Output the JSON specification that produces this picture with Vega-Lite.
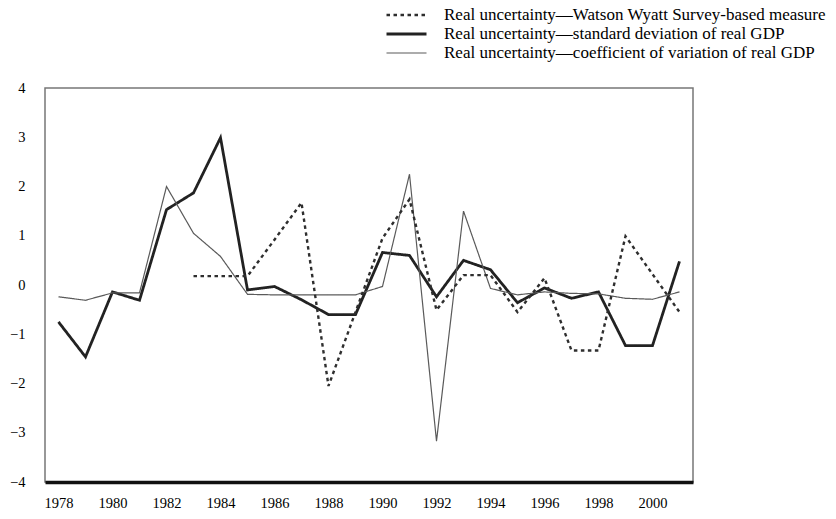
{
  "$schema": "https://vega.github.io/schema/vega-lite/v6.json",
  "autosize": "none",
  "width": 648,
  "height": 394,
  "padding": {"left": 45, "top": 88, "right": 143, "bottom": 37},
  "background": "white",
  "config": {
    "font": "Liberation Serif",
    "view": {"stroke": "#777", "strokeWidth": 1.5}
  },
  "data": {
    "values": [
      {"year": 1978, "series": "Real uncertainty\u2014standard deviation of real GDP", "value": -0.75},
      {"year": 1979, "series": "Real uncertainty\u2014standard deviation of real GDP", "value": -1.46},
      {"year": 1980, "series": "Real uncertainty\u2014standard deviation of real GDP", "value": -0.14},
      {"year": 1981, "series": "Real uncertainty\u2014standard deviation of real GDP", "value": -0.31},
      {"year": 1982, "series": "Real uncertainty\u2014standard deviation of real GDP", "value": 1.53},
      {"year": 1983, "series": "Real uncertainty\u2014standard deviation of real GDP", "value": 1.87},
      {"year": 1984, "series": "Real uncertainty\u2014standard deviation of real GDP", "value": 2.99},
      {"year": 1985, "series": "Real uncertainty\u2014standard deviation of real GDP", "value": -0.1},
      {"year": 1986, "series": "Real uncertainty\u2014standard deviation of real GDP", "value": -0.03},
      {"year": 1987, "series": "Real uncertainty\u2014standard deviation of real GDP", "value": -0.3},
      {"year": 1988, "series": "Real uncertainty\u2014standard deviation of real GDP", "value": -0.6},
      {"year": 1989, "series": "Real uncertainty\u2014standard deviation of real GDP", "value": -0.6},
      {"year": 1990, "series": "Real uncertainty\u2014standard deviation of real GDP", "value": 0.66},
      {"year": 1991, "series": "Real uncertainty\u2014standard deviation of real GDP", "value": 0.6},
      {"year": 1992, "series": "Real uncertainty\u2014standard deviation of real GDP", "value": -0.24},
      {"year": 1993, "series": "Real uncertainty\u2014standard deviation of real GDP", "value": 0.5},
      {"year": 1994, "series": "Real uncertainty\u2014standard deviation of real GDP", "value": 0.31},
      {"year": 1995, "series": "Real uncertainty\u2014standard deviation of real GDP", "value": -0.36},
      {"year": 1996, "series": "Real uncertainty\u2014standard deviation of real GDP", "value": -0.06},
      {"year": 1997, "series": "Real uncertainty\u2014standard deviation of real GDP", "value": -0.27},
      {"year": 1998, "series": "Real uncertainty\u2014standard deviation of real GDP", "value": -0.14},
      {"year": 1999, "series": "Real uncertainty\u2014standard deviation of real GDP", "value": -1.23},
      {"year": 2000, "series": "Real uncertainty\u2014standard deviation of real GDP", "value": -1.23},
      {"year": 2001, "series": "Real uncertainty\u2014standard deviation of real GDP", "value": 0.48},

      {"year": 1978, "series": "Real uncertainty\u2014coefficient of variation of real GDP", "value": -0.24},
      {"year": 1979, "series": "Real uncertainty\u2014coefficient of variation of real GDP", "value": -0.31},
      {"year": 1980, "series": "Real uncertainty\u2014coefficient of variation of real GDP", "value": -0.16},
      {"year": 1981, "series": "Real uncertainty\u2014coefficient of variation of real GDP", "value": -0.16},
      {"year": 1982, "series": "Real uncertainty\u2014coefficient of variation of real GDP", "value": 2.0},
      {"year": 1983, "series": "Real uncertainty\u2014coefficient of variation of real GDP", "value": 1.05},
      {"year": 1984, "series": "Real uncertainty\u2014coefficient of variation of real GDP", "value": 0.58},
      {"year": 1985, "series": "Real uncertainty\u2014coefficient of variation of real GDP", "value": -0.19},
      {"year": 1986, "series": "Real uncertainty\u2014coefficient of variation of real GDP", "value": -0.2},
      {"year": 1987, "series": "Real uncertainty\u2014coefficient of variation of real GDP", "value": -0.2},
      {"year": 1988, "series": "Real uncertainty\u2014coefficient of variation of real GDP", "value": -0.2},
      {"year": 1989, "series": "Real uncertainty\u2014coefficient of variation of real GDP", "value": -0.2},
      {"year": 1990, "series": "Real uncertainty\u2014coefficient of variation of real GDP", "value": -0.03},
      {"year": 1991, "series": "Real uncertainty\u2014coefficient of variation of real GDP", "value": 2.25},
      {"year": 1992, "series": "Real uncertainty\u2014coefficient of variation of real GDP", "value": -3.17},
      {"year": 1993, "series": "Real uncertainty\u2014coefficient of variation of real GDP", "value": 1.5},
      {"year": 1994, "series": "Real uncertainty\u2014coefficient of variation of real GDP", "value": -0.07},
      {"year": 1995, "series": "Real uncertainty\u2014coefficient of variation of real GDP", "value": -0.2},
      {"year": 1996, "series": "Real uncertainty\u2014coefficient of variation of real GDP", "value": -0.14},
      {"year": 1997, "series": "Real uncertainty\u2014coefficient of variation of real GDP", "value": -0.17},
      {"year": 1998, "series": "Real uncertainty\u2014coefficient of variation of real GDP", "value": -0.18},
      {"year": 1999, "series": "Real uncertainty\u2014coefficient of variation of real GDP", "value": -0.27},
      {"year": 2000, "series": "Real uncertainty\u2014coefficient of variation of real GDP", "value": -0.29},
      {"year": 2001, "series": "Real uncertainty\u2014coefficient of variation of real GDP", "value": -0.14},

      {"year": 1983, "series": "Real uncertainty\u2014Watson Wyatt Survey-based measure", "value": 0.18},
      {"year": 1984, "series": "Real uncertainty\u2014Watson Wyatt Survey-based measure", "value": 0.18},
      {"year": 1985, "series": "Real uncertainty\u2014Watson Wyatt Survey-based measure", "value": 0.18},
      {"year": 1986, "series": "Real uncertainty\u2014Watson Wyatt Survey-based measure", "value": 0.92},
      {"year": 1987, "series": "Real uncertainty\u2014Watson Wyatt Survey-based measure", "value": 1.67},
      {"year": 1988, "series": "Real uncertainty\u2014Watson Wyatt Survey-based measure", "value": -2.05},
      {"year": 1989, "series": "Real uncertainty\u2014Watson Wyatt Survey-based measure", "value": -0.55},
      {"year": 1990, "series": "Real uncertainty\u2014Watson Wyatt Survey-based measure", "value": 0.95},
      {"year": 1991, "series": "Real uncertainty\u2014Watson Wyatt Survey-based measure", "value": 1.74},
      {"year": 1992, "series": "Real uncertainty\u2014Watson Wyatt Survey-based measure", "value": -0.51},
      {"year": 1993, "series": "Real uncertainty\u2014Watson Wyatt Survey-based measure", "value": 0.2},
      {"year": 1994, "series": "Real uncertainty\u2014Watson Wyatt Survey-based measure", "value": 0.2},
      {"year": 1995, "series": "Real uncertainty\u2014Watson Wyatt Survey-based measure", "value": -0.55},
      {"year": 1996, "series": "Real uncertainty\u2014Watson Wyatt Survey-based measure", "value": 0.14},
      {"year": 1997, "series": "Real uncertainty\u2014Watson Wyatt Survey-based measure", "value": -1.33},
      {"year": 1998, "series": "Real uncertainty\u2014Watson Wyatt Survey-based measure", "value": -1.33},
      {"year": 1999, "series": "Real uncertainty\u2014Watson Wyatt Survey-based measure", "value": 0.99},
      {"year": 2000, "series": "Real uncertainty\u2014Watson Wyatt Survey-based measure", "value": 0.22},
      {"year": 2001, "series": "Real uncertainty\u2014Watson Wyatt Survey-based measure", "value": -0.55}
    ]
  },
  "mark": {"type": "line", "strokeJoin": "miter"},
  "encoding": {
    "x": {
      "field": "year",
      "type": "quantitative",
      "scale": {"domain": [1977.5, 2001.5], "nice": false, "zero": false},
      "axis": {
        "title": null,
        "values": [1978, 1980, 1982, 1984, 1986, 1988, 1990, 1992, 1994, 1996, 1998, 2000],
        "format": "d",
        "grid": false,
        "ticks": false,
        "domainColor": "#111",
        "domainWidth": 3.5,
        "labelFont": "Liberation Serif",
        "labelFontSize": 14.5,
        "labelColor": "#000",
        "labelPadding": 14
      }
    },
    "y": {
      "field": "value",
      "type": "quantitative",
      "scale": {"domain": [-4, 4], "nice": false},
      "axis": {
        "title": null,
        "values": [-4, -3, -2, -1, 0, 1, 2, 3, 4],
        "grid": false,
        "ticks": false,
        "domain": false,
        "labelFont": "Liberation Serif",
        "labelFontSize": 14.5,
        "labelColor": "#000",
        "labelPadding": 20
      }
    },
    "color": {
      "field": "series",
      "type": "nominal",
      "scale": {
        "domain": [
          "Real uncertainty\u2014Watson Wyatt Survey-based measure",
          "Real uncertainty\u2014standard deviation of real GDP",
          "Real uncertainty\u2014coefficient of variation of real GDP"
        ],
        "range": ["#2e2e2e", "#222222", "#5a5a5a"]
      },
      "legend": {
        "title": null,
        "orient": "none",
        "legendX": 340,
        "legendY": -82,
        "symbolType": "stroke",
        "symbolSize": 1600,
        "clipHeight": 18,
        "labelFont": "Liberation Serif",
        "labelFontSize": 17,
        "labelColor": "#000",
        "labelOffset": 16,
        "rowPadding": 1,
        "labelLimit": 600
      }
    },
    "strokeDash": {
      "field": "series",
      "type": "nominal",
      "scale": {
        "domain": [
          "Real uncertainty\u2014Watson Wyatt Survey-based measure",
          "Real uncertainty\u2014standard deviation of real GDP",
          "Real uncertainty\u2014coefficient of variation of real GDP"
        ],
        "range": [[3.5, 3.5], [1, 0], [1, 0]]
      }
    },
    "strokeWidth": {
      "field": "series",
      "type": "nominal",
      "scale": {
        "type": "ordinal",
        "domain": [
          "Real uncertainty\u2014Watson Wyatt Survey-based measure",
          "Real uncertainty\u2014standard deviation of real GDP",
          "Real uncertainty\u2014coefficient of variation of real GDP"
        ],
        "range": [2.4, 2.8, 1.2]
      }
    }
  }
}
